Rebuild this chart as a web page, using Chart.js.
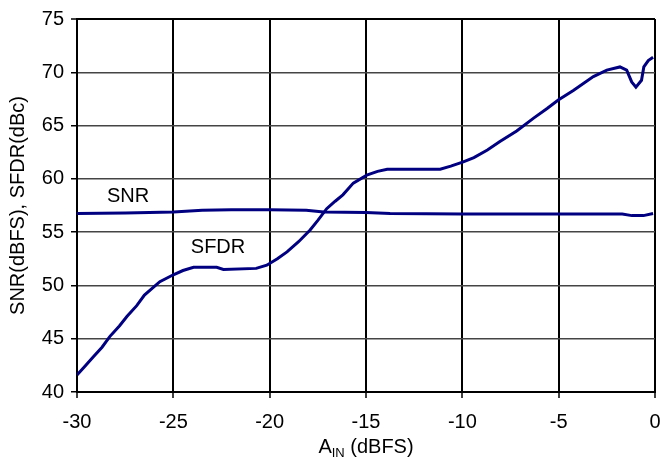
<!DOCTYPE html>
<html>
<head>
<meta charset="utf-8">
<script src="https://cdn.jsdelivr.net/npm/chart.js@4/dist/chart.umd.min.js"></script>
<style>
  html, body { margin: 0; padding: 0; background: #fff; }
  #wrap { width: 660px; height: 459px; }
</style>
</head>
<body>
<div id="wrap"><canvas id="c" width="660" height="459"></canvas></div>
<script>
// ---- data ----
const snrX  = [-30, -27.5, -25, -23.5, -22, -20, -18.1, -17.2, -15, -13.75, -10, -5, -1.7, -1.2, -0.6, -0.1];
const snrY  = [56.75, 56.8, 56.9, 57.05, 57.1, 57.1, 57.05, 56.9, 56.85, 56.75, 56.7, 56.7, 56.7, 56.55, 56.55, 56.75];

const sfdrX = [-30, -29.6, -29.15, -28.7, -28.3, -27.8, -27.4, -26.9, -26.5, -25.7, -25.0, -24.5, -23.95, -22.75, -22.4, -20.7, -20.15, -19.6, -19.1, -18.5, -17.9, -17.5, -17.04, -16.6, -16.2, -15.66, -14.96, -14.4, -13.9, -11.15, -10.6, -9.95, -9.4, -8.7, -8.05, -7.18, -6.3, -5.6, -5.02, -4.24, -3.2, -2.5, -1.82, -1.47, -1.21, -0.99, -0.7, -0.58, -0.35, -0.1];
const sfdrY = [41.6, 42.4, 43.3, 44.2, 45.2, 46.2, 47.1, 48.1, 49.1, 50.35, 51.0, 51.4, 51.7, 51.7, 51.5, 51.6, 51.9, 52.5, 53.15, 54.1, 55.2, 56.1, 57.2, 57.9, 58.5, 59.6, 60.35, 60.7, 60.9, 60.9, 61.2, 61.6, 62.0, 62.7, 63.5, 64.5, 65.7, 66.6, 67.4, 68.3, 69.6, 70.2, 70.5, 70.2, 69.1, 68.6, 69.25, 70.5, 71.1, 71.4];

const seriesNames = ['SNR', 'SFDR'];
const labelX = [-27.35, -22.68];
const labelY = [58.3, 53.6];

const xTicks = [-30, -25, -20, -15, -10, -5, 0];
const yTicks = [40, 45, 50, 55, 60, 65, 70, 75];
const yTitle = 'SNR(dBFS), SFDR(dBc)';
const xTitleMain = 'A';
const xTitleSub = 'IN';
const xTitleRest = ' (dBFS)';

const FONT = "'Liberation Sans', Arial, sans-serif";

const toPts = (xs, ys) => xs.map((x, i) => ({ x: x, y: ys[i] }));

const annot = {
  id: 'annot',
  afterDatasetsDraw(chart) {
    const ctx = chart.ctx;
    const xs = chart.scales.x, ys = chart.scales.y;
    ctx.save();
    ctx.fillStyle = '#000';
    ctx.font = '20px ' + FONT;
    ctx.textAlign = 'center';
    ctx.textBaseline = 'middle';
    seriesNames.forEach((n, i) => {
      ctx.fillText(n, xs.getPixelForValue(labelX[i]), ys.getPixelForValue(labelY[i]));
    });
    // x-axis title with subscript
    const ca = chart.chartArea;
    const mainFont = '20px ' + FONT, subFont = '13px ' + FONT;
    ctx.font = mainFont; const wA = ctx.measureText(xTitleMain).width;
    ctx.font = subFont;  const wS = ctx.measureText(xTitleSub).width;
    ctx.font = mainFont; const wR = ctx.measureText(xTitleRest).width;
    const total = wA + wS + wR;
    let x0 = (ca.left + ca.right) / 2 - total / 2;
    const base = 453;
    ctx.textAlign = 'left';
    ctx.textBaseline = 'alphabetic';
    ctx.font = mainFont; ctx.fillText(xTitleMain, x0, base); x0 += wA;
    ctx.font = subFont;  ctx.fillText(xTitleSub, x0, base + 4); x0 += wS;
    ctx.font = mainFont; ctx.fillText(xTitleRest, x0, base);
    ctx.restore();
  }
};

new Chart(document.getElementById('c'), {
  type: 'line',
  data: {
    datasets: [
      { label: seriesNames[0], data: toPts(snrX, snrY), borderColor: '#000080', borderWidth: 3, pointRadius: 0, tension: 0, fill: false },
      { label: seriesNames[1], data: toPts(sfdrX, sfdrY), borderColor: '#000080', borderWidth: 3, pointRadius: 0, tension: 0, fill: false }
    ]
  },
  options: {
    responsive: false,
    animation: false,
    devicePixelRatio: 1,
    layout: { padding: { left: 0, right: 5, top: 19, bottom: 0 } },
    plugins: { legend: { display: false }, tooltip: { enabled: false } },
    scales: {
      x: {
        type: 'linear',
        min: -30, max: 0,
        afterBuildTicks: (s) => { s.ticks = xTicks.map(v => ({ value: v })); },
        afterFit: (s) => { s.height = 67; s.paddingLeft = 0; s.paddingRight = 0; },
        ticks: { color: '#000', font: { size: 20, family: FONT }, padding: 12, maxRotation: 0, autoSkip: false },
        grid: { color: '#000', lineWidth: 2, tickLength: 6, tickColor: '#000', tickWidth: 1.5 },
        border: { color: '#000', width: 2 }
      },
      y: {
        type: 'linear',
        min: 40, max: 75,
        afterBuildTicks: (s) => { s.ticks = yTicks.map(v => ({ value: v })); },
        afterFit: (s) => { s.width = 77; s.paddingTop = 0; s.paddingBottom = 0; },
        ticks: { color: '#000', font: { size: 20, family: FONT }, padding: 7 },
        grid: {
          color: (c) => (c.tick && c.tick.value === 75) ? '#000' : '#444',
          lineWidth: (c) => (c.tick && c.tick.value === 75) ? 2 : 1.5,
          tickLength: 6, tickColor: '#000', tickWidth: 1.5
        },
        border: { color: '#000', width: 2 },
        title: { display: true, text: yTitle, color: '#000', font: { size: 20, family: FONT }, padding: { top: 6, bottom: 0 } }
      }
    }
  },
  plugins: [annot]
});
</script>
</body>
</html>
